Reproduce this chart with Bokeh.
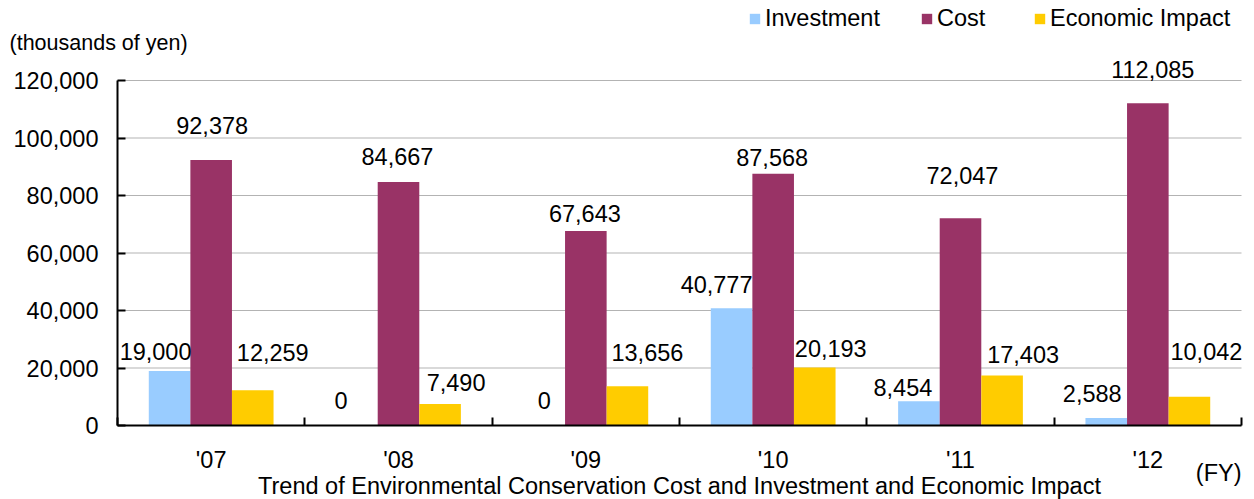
from bokeh.plotting import figure
from bokeh.models import (Range1d, FixedTicker, NumeralTickFormatter, Legend,
                          LegendItem, Label, LabelSet, ColumnDataSource)
from bokeh.core.properties import value
from bokeh.embed import file_html
from bokeh.resources import INLINE

# ---- data ----
years = ["'07", "'08", "'09", "'10", "'11", "'12"]
investment = [19000, 0, 0, 40777, 8454, 2588]
cost = [92378, 84667, 67643, 87568, 72047, 112085]
economic_impact = [12259, 7490, 13656, 20193, 17403, 10042]
y_ticks = [0, 20000, 40000, 60000, 80000, 100000, 120000]

# ---- layout / styling ----
W, H = 1254, 499
AX_LEFT, AX_RIGHT, AX_TOP, AX_BOTTOM = 117, 1241, 80, 425   # pixel box of the axes
FONT = "Liberation Sans"
FS = "23.5px"
BW = 0.222
C_INV, C_COST, C_ECON = "#99CCFF", "#993366", "#FFCC00"
GRID = "#b3b3b3"
# per-label pixel nudges (dx right, lift up), as placed in the original
inv_dx = [-14, -16, 0, -15, -16, -14]
inv_up = [19, 25, 25, 24, 14, 25]
cost_dx = [1, -1, -1, -1, 2, 5]
cost_up = [34, 26, 18, 16, 43, 34]
econ_dx = [20, 16, 20, 16, 21, 17]
econ_up = [38, 21, 34, 19, 21, 45]

n = len(years)
ymax = y_ticks[-1]
centers = [i + 0.5 for i in range(n)]
bounds = [float(i) for i in range(n + 1)]

# ranges chosen so the whole canvas is the frame (nothing gets clipped)
ppx = (AX_RIGHT - AX_LEFT) / n
ppy = (AX_BOTTOM - AX_TOP) / ymax
x_range = Range1d(-AX_LEFT / ppx, (W - AX_LEFT) / ppx)
y_range = Range1d(-(H - AX_BOTTOM) / ppy, ymax + AX_TOP / ppy)

p = figure(width=W, height=H, x_range=x_range, y_range=y_range,
           output_backend="svg", toolbar_location=None,
           min_border_left=0, min_border_right=0, min_border_top=0, min_border_bottom=0)
p.outline_line_color = None
p.xgrid.visible = False
p.ygrid.visible = False

# horizontal gridlines between the axis and the right end
g = p.segment(x0=[0] * len(y_ticks), x1=[n] * len(y_ticks), y0=y_ticks, y1=y_ticks,
              line_color=GRID, line_width=1)
g.level = "underlay"

series = [
    ("Investment", investment, -BW, C_INV, inv_dx, inv_up),
    ("Cost", cost, 0.0, C_COST, cost_dx, cost_up),
    ("Economic Impact", economic_impact, BW, C_ECON, econ_dx, econ_up),
]
renderers = []
for name, vals, off, col, dx, up in series:
    xs = [c + off for c in centers]
    src = ColumnDataSource(dict(x=xs, top=vals, text=[f"{v:,}" for v in vals], dx=dx, up=up))
    r = p.vbar(x="x", top="top", width=BW, source=src, fill_color=col, line_color=None)
    renderers.append(r)
    p.add_layout(LabelSet(x="x", y="top", text="text", source=src, x_offset="dx", y_offset="up",
                          text_align="center", text_baseline="middle",
                          text_font=value(FONT), text_font_size=value(FS), text_color="black"))

# axes (drawn at data 0 inside the frame)
p.yaxis.fixed_location = 0
p.yaxis.bounds = (0, ymax)
p.yaxis.ticker = FixedTicker(ticks=y_ticks)
p.yaxis.formatter = NumeralTickFormatter(format="0,0")
p.yaxis.major_tick_in = 8
p.yaxis.major_tick_out = 0
p.yaxis.minor_tick_line_color = None
p.yaxis.axis_line_width = 2
p.yaxis.major_tick_line_width = 2
p.yaxis.major_label_standoff = 19
p.yaxis.major_label_text_font = FONT
p.yaxis.major_label_text_font_size = FS
p.yaxis.major_label_text_color = "black"

p.xaxis.fixed_location = 0
p.xaxis.bounds = (0, n)
p.xaxis.ticker = FixedTicker(ticks=centers, minor_ticks=bounds)
p.xaxis.major_label_overrides = {c: y for c, y in zip(centers, years)}
p.xaxis.major_tick_line_color = None
p.xaxis.minor_tick_in = 8
p.xaxis.minor_tick_out = 0
p.xaxis.minor_tick_line_color = "black"
p.xaxis.minor_tick_line_width = 2
p.xaxis.axis_line_width = 2
p.xaxis.major_label_standoff = 15
p.xaxis.major_label_text_font = FONT
p.xaxis.major_label_text_font_size = FS
p.xaxis.major_label_text_color = "black"

# legends (one per item, placed like the original; location = bottom-left in px)
for r, (name, *_), xloc in zip(renderers, series, [748, 920, 1033]):
    lg = Legend(items=[LegendItem(label=name, renderers=[r])], location=(xloc, H - 32),
                orientation="horizontal", glyph_width=13, glyph_height=13, label_standoff=4,
                padding=0, margin=0, spacing=0, border_line_color=None,
                background_fill_alpha=0, label_text_font=FONT, label_text_font_size=FS,
                label_text_color="black")
    p.add_layout(lg, "center")

p.add_layout(Label(x=0, y=ymax, x_offset=-108, y_offset=38, text="(thousands of yen)",
                   text_align="left", text_baseline="middle", text_font=FONT,
                   text_font_size="21.5px", text_color="black"))
p.add_layout(Label(x=n, y=0, y_offset=-47, text="(FY)", text_align="right",
                   text_baseline="middle", text_font=FONT, text_font_size=FS, text_color="black"))
p.add_layout(Label(x=n / 2, y=0, y_offset=-60,
                   text="Trend of Environmental Conservation Cost and Investment and Economic Impact",
                   text_align="center", text_baseline="middle", text_font=FONT, text_font_size=FS,
                   text_color="black"))

open("out.html", "w").write(file_html(p, INLINE))
